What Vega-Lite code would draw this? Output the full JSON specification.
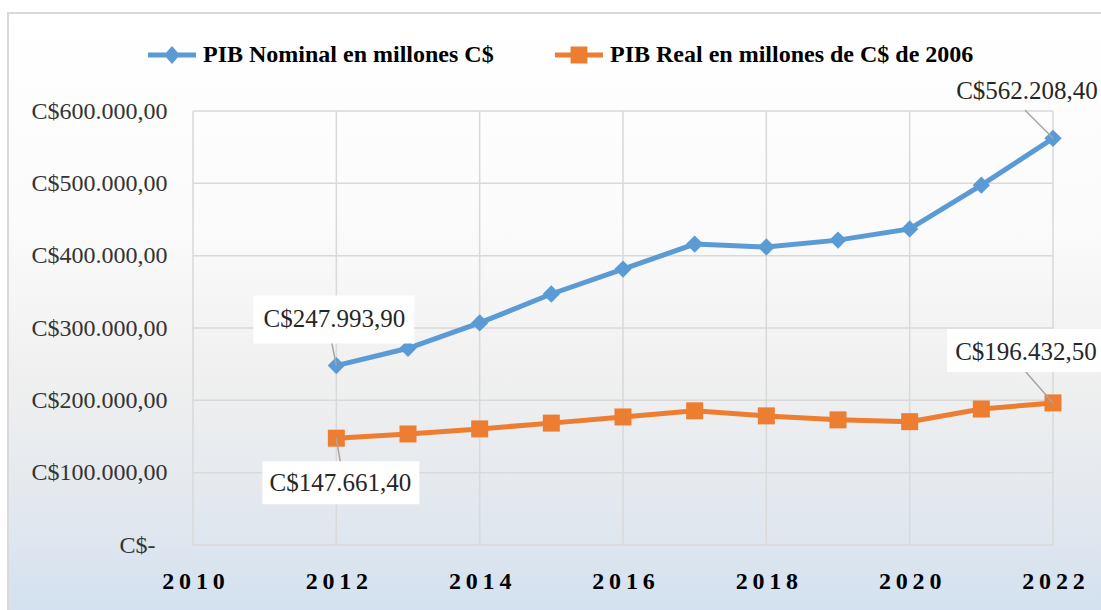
{
  "$schema": "https://vega.github.io/schema/vega-lite/v6.json",
  "width": 1100,
  "height": 600,
  "autosize": {"type": "none"},
  "padding": {"left": 8, "top": 13, "right": 0, "bottom": 0},
  "background": "#ffffff",
  "view": {
    "fill": {
      "gradient": "linear", "x1": 0, "y1": 0, "x2": 0, "y2": 1,
      "stops": [
        {"offset": 0, "color": "#ffffff"},
        {"offset": 0.35, "color": "#fbfbfb"},
        {"offset": 0.6, "color": "#f0f0f0"},
        {"offset": 0.85, "color": "#e1e7ee"},
        {"offset": 1, "color": "#d2e1f1"}
      ]
    },
    "stroke": "#d9d9d9",
    "strokeWidth": 2
  },
  "config": {"font": "Liberation Serif"},
  "datasets": {
    "gdp": [
      {"year": 2012, "series": "PIB Nominal en millones C$", "value": 247993.9, "label": "C$247.993,90"},
      {"year": 2013, "series": "PIB Nominal en millones C$", "value": 272000},
      {"year": 2014, "series": "PIB Nominal en millones C$", "value": 307000},
      {"year": 2015, "series": "PIB Nominal en millones C$", "value": 347000},
      {"year": 2016, "series": "PIB Nominal en millones C$", "value": 381500},
      {"year": 2017, "series": "PIB Nominal en millones C$", "value": 416000},
      {"year": 2018, "series": "PIB Nominal en millones C$", "value": 412000},
      {"year": 2019, "series": "PIB Nominal en millones C$", "value": 421500},
      {"year": 2020, "series": "PIB Nominal en millones C$", "value": 437000},
      {"year": 2021, "series": "PIB Nominal en millones C$", "value": 497500},
      {"year": 2022, "series": "PIB Nominal en millones C$", "value": 562208.4, "label": "C$562.208,40"},
      {"year": 2012, "series": "PIB Real en millones de C$ de 2006", "value": 147661.4, "label": "C$147.661,40"},
      {"year": 2013, "series": "PIB Real en millones de C$ de 2006", "value": 153500},
      {"year": 2014, "series": "PIB Real en millones de C$ de 2006", "value": 160500},
      {"year": 2015, "series": "PIB Real en millones de C$ de 2006", "value": 168500},
      {"year": 2016, "series": "PIB Real en millones de C$ de 2006", "value": 177000},
      {"year": 2017, "series": "PIB Real en millones de C$ de 2006", "value": 185500},
      {"year": 2018, "series": "PIB Real en millones de C$ de 2006", "value": 178500},
      {"year": 2019, "series": "PIB Real en millones de C$ de 2006", "value": 173000},
      {"year": 2020, "series": "PIB Real en millones de C$ de 2006", "value": 170500},
      {"year": 2021, "series": "PIB Real en millones de C$ de 2006", "value": 188000},
      {"year": 2022, "series": "PIB Real en millones de C$ de 2006", "value": 196432.5, "label": "C$196.432,50"}
    ],
    "xgrid": [{"year": 2010}, {"year": 2012}, {"year": 2014}, {"year": 2016}, {"year": 2018}, {"year": 2020}, {"year": 2022}],
    "ygrid": [{"value": 0}, {"value": 100000}, {"value": 200000}, {"value": 300000}, {"value": 400000}, {"value": 500000}, {"value": 600000}]
  },
  "data": {"name": "gdp"},
  "layer": [
    {
      "data": {"name": "xgrid"},
      "mark": {"type": "rule", "stroke": "#d9d9d9", "strokeWidth": 1.5},
      "encoding": {
        "x": {
          "field": "year", "type": "quantitative",
          "scale": {"domain": [2007.4186, 2022.7674], "nice": false, "zero": false},
          "axis": {
            "orient": "bottom", "offset": -68, "values": [2010, 2012, 2014, 2016, 2018, 2020, 2022],
            "format": "d", "domain": false, "ticks": false, "tickSize": 0, "grid": false,
            "labelPadding": 24, "labelFont": "Liberation Serif", "labelFontSize": 24, "labelFontWeight": "bold",
            "labelColor": "#000000", "labelExpr": "join(split(datum.label, ''), '\u2009')",
            "title": null, "labelOverlap": false, "labelFlush": false
          }
        },
        "y": {
          "datum": 0, "type": "quantitative",
          "scale": {"domain": [-94009, 735484], "nice": false, "zero": false},
          "axis": {
            "orient": "left", "offset": -185, "values": [0, 100000, 200000, 300000, 400000, 500000, 600000],
            "domain": false, "ticks": false, "tickSize": 0, "grid": false,
            "labelPadding": {"condition": {"test": "datum.value == 0", "value": 38}, "value": 26},
            "labelFont": "Liberation Serif", "labelFontSize": 24, "labelColor": "#333333",
            "labelExpr": "datum.value == 0 ? 'C$-' : 'C$' + format(datum.value / 1000, 'd') + '.000,00'",
            "title": null, "labelOverlap": false, "labelFlush": false
          }
        },
        "y2": {"datum": 600000}
      }
    },
    {
      "data": {"name": "ygrid"},
      "mark": {"type": "rule", "stroke": "#d9d9d9", "strokeWidth": 1.5},
      "encoding": {
        "y": {
          "field": "value", "type": "quantitative",
          "scale": {"domain": [-94009, 735484], "nice": false, "zero": false},
          "axis": {
            "orient": "left", "offset": -185, "values": [0, 100000, 200000, 300000, 400000, 500000, 600000],
            "domain": false, "ticks": false, "tickSize": 0, "grid": false,
            "labelPadding": {"condition": {"test": "datum.value == 0", "value": 38}, "value": 26},
            "labelFont": "Liberation Serif", "labelFontSize": 24, "labelColor": "#333333",
            "labelExpr": "datum.value == 0 ? 'C$-' : 'C$' + format(datum.value / 1000, 'd') + '.000,00'",
            "title": null, "labelOverlap": false, "labelFlush": false
          }
        },
        "x": {
          "datum": 2010, "type": "quantitative",
          "scale": {"domain": [2007.4186, 2022.7674], "nice": false, "zero": false},
          "axis": {
            "orient": "bottom", "offset": -68, "values": [2010, 2012, 2014, 2016, 2018, 2020, 2022],
            "format": "d", "domain": false, "ticks": false, "tickSize": 0, "grid": false,
            "labelPadding": 24, "labelFont": "Liberation Serif", "labelFontSize": 24, "labelFontWeight": "bold",
            "labelColor": "#000000", "labelExpr": "join(split(datum.label, ''), '\u2009')",
            "title": null, "labelOverlap": false, "labelFlush": false
          }
        },
        "x2": {"datum": 2022}
      }
    },
    {
      "encoding": {
        "x": {
          "field": "year", "type": "quantitative",
          "scale": {"domain": [2007.4186, 2022.7674], "nice": false, "zero": false},
          "axis": {
            "orient": "bottom", "offset": -68, "values": [2010, 2012, 2014, 2016, 2018, 2020, 2022],
            "format": "d", "domain": false, "ticks": false, "tickSize": 0, "grid": false,
            "labelPadding": 24, "labelFont": "Liberation Serif", "labelFontSize": 24, "labelFontWeight": "bold",
            "labelColor": "#000000", "labelExpr": "join(split(datum.label, ''), '\u2009')",
            "title": null, "labelOverlap": false, "labelFlush": false
          }
        },
        "y": {
          "field": "value", "type": "quantitative",
          "scale": {"domain": [-94009, 735484], "nice": false, "zero": false},
          "axis": {
            "orient": "left", "offset": -185, "values": [0, 100000, 200000, 300000, 400000, 500000, 600000],
            "domain": false, "ticks": false, "tickSize": 0, "grid": false,
            "labelPadding": {"condition": {"test": "datum.value == 0", "value": 38}, "value": 26},
            "labelFont": "Liberation Serif", "labelFontSize": 24, "labelColor": "#333333",
            "labelExpr": "datum.value == 0 ? 'C$-' : 'C$' + format(datum.value / 1000, 'd') + '.000,00'",
            "title": null, "labelOverlap": false, "labelFlush": false
          }
        }
      },
      "layer": [
        {
          "transform": [{"filter": "datum.series == 'PIB Nominal en millones C$'"}],
          "mark": {"type": "line", "strokeWidth": 5},
          "encoding": {
            "stroke": {
              "field": "series", "type": "nominal",
              "scale": {"domain": ["PIB Nominal en millones C$"], "range": ["#5b9bd5"]},
              "legend": {
                "orient": "none", "legendX": 140, "legendY": 18, "title": null,
                "labelFont": "Liberation Serif", "labelFontSize": 24, "labelFontWeight": "bold",
                "labelColor": "#000000", "labelLimit": 0, "symbolSize": 2304, "labelOffset": 7,
                "symbolType": "M-1,-0.1H1V0.1H-1Z M0,-0.375L0.33,0L0,0.375L-0.33,0Z",
                "symbolFillColor": "#5b9bd5", "symbolStrokeColor": "#5b9bd5", "symbolStrokeWidth": 0, "symbolOpacity": 1
              }
            }
          }
        },
        {
          "transform": [{"filter": "datum.series == 'PIB Real en millones de C$ de 2006'"}],
          "mark": {"type": "line", "strokeWidth": 5},
          "encoding": {
            "color": {
              "field": "series", "type": "nominal",
              "scale": {"domain": ["PIB Real en millones de C$ de 2006"], "range": ["#ed7d31"]},
              "legend": {
                "orient": "none", "legendX": 547, "legendY": 18, "title": null,
                "labelFont": "Liberation Serif", "labelFontSize": 24, "labelFontWeight": "bold",
                "labelColor": "#000000", "labelLimit": 0, "symbolSize": 2304, "labelOffset": 7,
                "symbolType": "M-1,-0.1H1V0.1H-1Z M-0.35,-0.35H0.35V0.35H-0.35Z",
                "symbolFillColor": "#ed7d31", "symbolStrokeColor": "#ed7d31", "symbolStrokeWidth": 0, "symbolOpacity": 1
              }
            }
          }
        },
        {
          "transform": [{"filter": "datum.series == 'PIB Nominal en millones C$'"}],
          "mark": {"type": "point", "filled": true, "opacity": 1, "size": 300, "shape": "diamond", "color": "#5b9bd5"}
        },
        {
          "transform": [{"filter": "datum.series == 'PIB Real en millones de C$ de 2006'"}],
          "mark": {"type": "point", "filled": true, "opacity": 1, "size": 289, "shape": "square", "color": "#ed7d31"}
        },
        {
          "transform": [{"filter": "datum.year == 2012 && datum.series == 'PIB Nominal en millones C$'"}],
          "layer": [
            {"mark": {"type": "rule", "stroke": "#a6a6a6", "strokeWidth": 1.5, "x2Offset": -5, "y2Offset": -25},
             "encoding": {"x2": {"field": "year"}, "y2": {"field": "value"}}},
            {"mark": {"type": "rect", "fill": "#ffffff", "xOffset": -83, "x2Offset": 78, "yOffset": -70, "y2Offset": -22},
             "encoding": {"x2": {"field": "year"}, "y2": {"field": "value"}}},
            {"mark": {"type": "text", "dx": -2, "dy": -47, "fontSize": 25, "color": "#262626", "font": "Liberation Serif"},
             "encoding": {"text": {"field": "label"}}}
          ]
        },
        {
          "transform": [{"filter": "datum.year == 2022 && datum.series == 'PIB Nominal en millones C$'"}],
          "layer": [
            {"mark": {"type": "rule", "stroke": "#a6a6a6", "strokeWidth": 1.5, "x2Offset": -28, "y2Offset": -28},
             "encoding": {"x2": {"field": "year"}, "y2": {"field": "value"}}},
            {"mark": {"type": "text", "dx": -26, "dy": -47, "fontSize": 25, "color": "#262626", "font": "Liberation Serif"},
             "encoding": {"text": {"field": "label"}}}
          ]
        },
        {
          "transform": [{"filter": "datum.year == 2012 && datum.series == 'PIB Real en millones de C$ de 2006'"}],
          "layer": [
            {"mark": {"type": "rule", "stroke": "#a6a6a6", "strokeWidth": 1.5, "x2Offset": 4, "y2Offset": 24},
             "encoding": {"x2": {"field": "year"}, "y2": {"field": "value"}}},
            {"mark": {"type": "rect", "fill": "#ffffff", "xOffset": -74, "x2Offset": 83, "yOffset": 23, "y2Offset": 66},
             "encoding": {"x2": {"field": "year"}, "y2": {"field": "value"}}},
            {"mark": {"type": "text", "dx": 4, "dy": 45, "fontSize": 25, "color": "#262626", "font": "Liberation Serif"},
             "encoding": {"text": {"field": "label"}}}
          ]
        },
        {
          "transform": [{"filter": "datum.year == 2022 && datum.series == 'PIB Real en millones de C$ de 2006'"}],
          "layer": [
            {"mark": {"type": "rule", "stroke": "#a6a6a6", "strokeWidth": 1.5, "x2Offset": -28, "y2Offset": -32},
             "encoding": {"x2": {"field": "year"}, "y2": {"field": "value"}}},
            {"mark": {"type": "rect", "fill": "#ffffff", "xOffset": -106, "x2Offset": 50, "yOffset": -74, "y2Offset": -31},
             "encoding": {"x2": {"field": "year"}, "y2": {"field": "value"}}},
            {"mark": {"type": "text", "dx": -27, "dy": -51, "fontSize": 25, "color": "#262626", "font": "Liberation Serif"},
             "encoding": {"text": {"field": "label"}}}
          ]
        }
      ]
    }
  ]
}
